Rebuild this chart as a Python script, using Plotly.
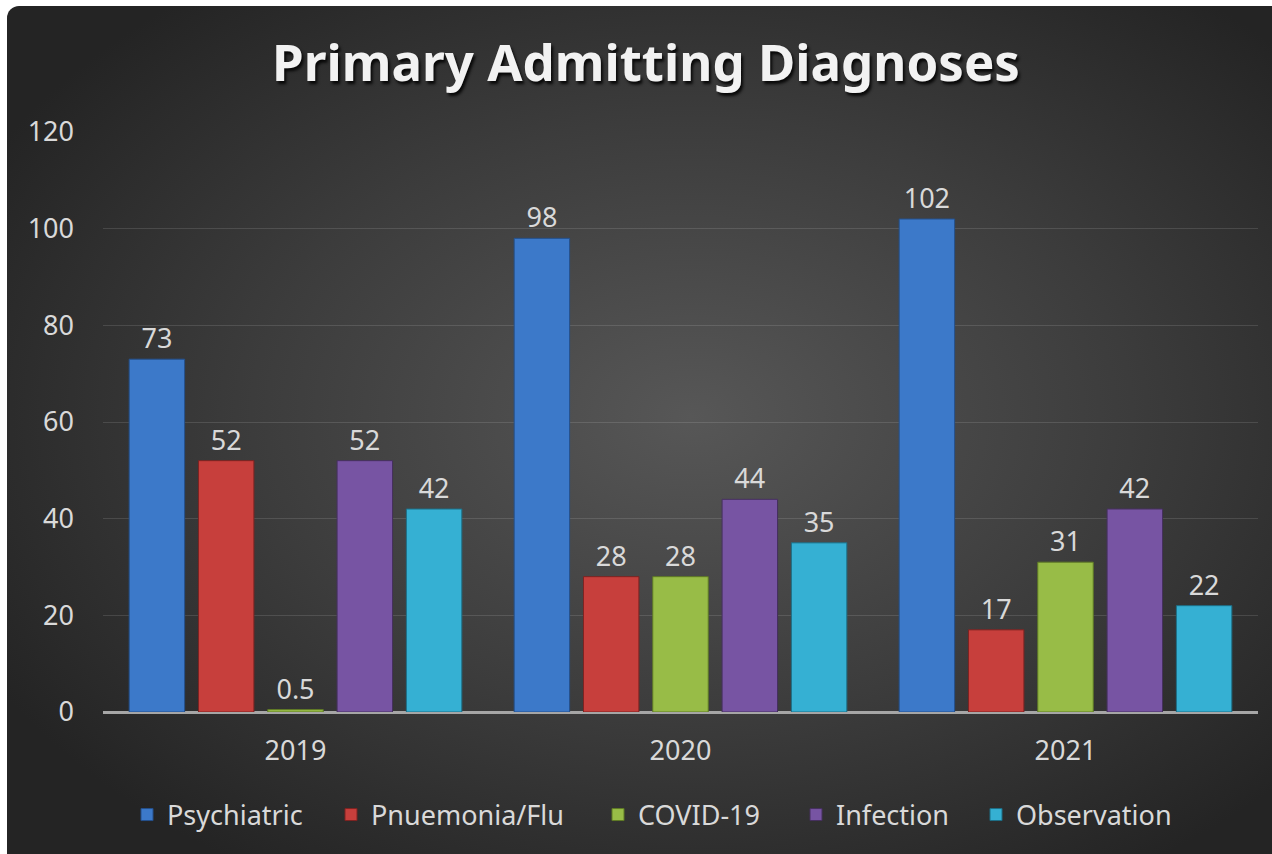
import base64
import plotly.graph_objects as go

years = ["2019", "2020", "2021"]
psychiatric = [73, 98, 102]
pneumonia = [52, 28, 17]
covid = [0.5, 28, 31]
infection = [52, 44, 42]
observation = [42, 35, 22]

series = [
    ("Psychiatric", psychiatric, "#3c79c9", "#24508c"),
    ("Pnuemonia/Flu", pneumonia, "#c73f3c", "#7e2321"),
    ("COVID-19", covid, "#98bc47", "#5f7a25"),
    ("Infection", infection, "#7754a3", "#46305f"),
    ("Observation", observation, "#35b0d3", "#1d6f87"),
]
# left pixel of each legend marker
legend_px = [141, 345, 612, 810, 990]

# pixel layout of the plot area
W, H = 1272, 854
L, R, T, B = 103, 14, 132, 142
pw, ph = W - L - R, H - T - B

# radial grey background as an svg
svg = f"""<svg xmlns="http://www.w3.org/2000/svg" width="{W-7}" height="{H-6}">
<defs><radialGradient id="g" cx="0.53" cy="0.47" r="0.62">
<stop offset="0" stop-color="#575757"/><stop offset="0.55" stop-color="#3c3c3c"/>
<stop offset="1" stop-color="#242424"/></radialGradient></defs>
<rect x="0" y="0" width="{W+20}" height="{H+20}" rx="12" ry="12" fill="url(#g)"/>
</svg>"""
bg = "data:image/svg+xml;base64," + base64.b64encode(svg.encode()).decode()

fig = go.Figure()
legends = {}
for i, (name, vals, col, edge) in enumerate(series):
    key = f"legend{i+2}"
    fig.add_trace(go.Bar(
        x=years, y=vals, name=name, legend=key, showlegend=True,
        marker=dict(color=col, line=dict(color=edge, width=1)),
        text=[f"{v:g}" for v in vals], textposition="outside",
        textfont=dict(size=27, color="#d9d9d9", family="Noto Sans"),
        cliponaxis=False,
    ))
    legends[key] = dict(orientation="h", x=(legend_px[i] - 14 - L) / pw, xanchor="left",
                        y=(T + ph - 815) / ph, yanchor="middle",
                        font=dict(size=27, color="#d9d9d9"), itemwidth=30,
                        bgcolor="rgba(0,0,0,0)")

fig.update_layout(
    width=W, height=H,
    margin=dict(l=L, r=R, t=T, b=B, autoexpand=False),
    paper_bgcolor="white",
    plot_bgcolor="rgba(0,0,0,0)",
    barmode="group", bargap=0.1, bargroupgap=0.2,
    font=dict(family="Noto Sans", color="#d9d9d9"),
    title=dict(
        text="Primary Admitting Diagnoses",
        x=646 / W, xanchor="center", y=1 - 63 / H, yanchor="middle",
        font=dict(size=51, color="#f2f2f2", family="Noto Sans", weight="bold",
                  shadow="2px 3px 3px rgba(0,0,0,0.85)"),
    ),
    xaxis=dict(showgrid=False, ticks="", tickfont=dict(size=27, color="#d9d9d9"),
               ticklabelstandoff=20, showline=False, zeroline=False),
    yaxis=dict(range=[0, 120], dtick=20, tickfont=dict(size=27, color="#d9d9d9"),
               gridcolor="rgba(255,255,255,0.12)", gridwidth=1.3,
               zeroline=True, zerolinecolor="#a6a6a6", zerolinewidth=2.5,
               ticks="", ticklabelstandoff=28, showline=False),
    images=[dict(source=bg, xref="paper", yref="paper",
                 x=(7 - L) / pw, y=(T + ph - 6) / ph,
                 sizex=(W - 7) / pw, sizey=(H - 6) / ph,
                 sizing="stretch", xanchor="left", yanchor="top", layer="below")],
    **legends,
)

fig.write_html("out.html", config={"displayModeBar": False})
with open("out.html") as f:
    html = f.read()
html = html.replace("<body>", '<body style="margin:0;overflow:hidden">', 1)
with open("out.html", "w") as f:
    f.write(html)
